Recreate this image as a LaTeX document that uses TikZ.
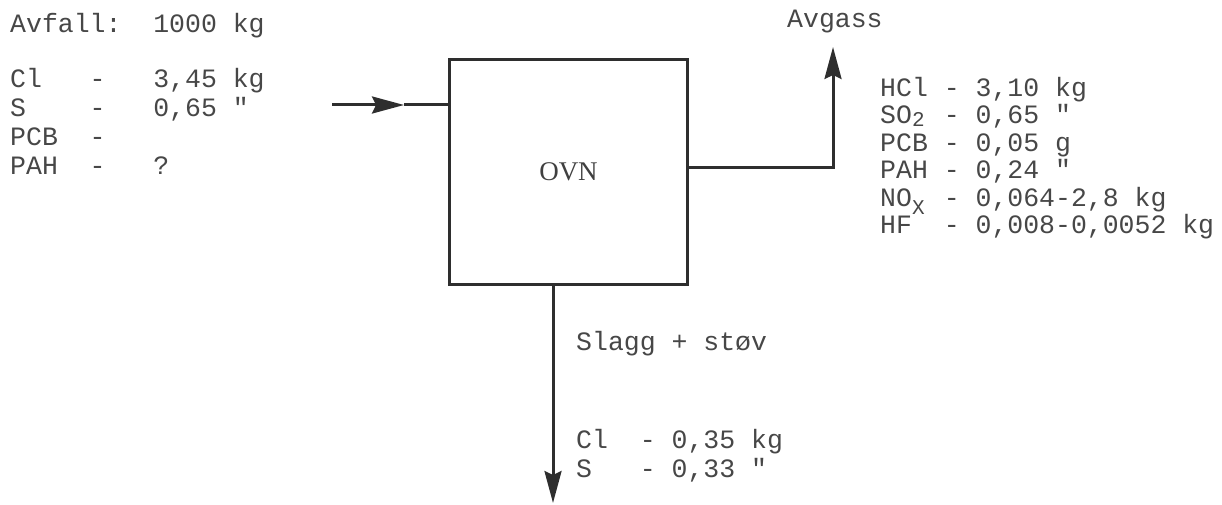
\documentclass[tikz,border=0pt]{standalone}
\usepackage{fontspec}
\setmonofont{Liberation Mono}
\newfontfamily\ovnfont{Liberation Serif}
\usetikzlibrary{arrows.meta}
\newcommand{\dnch}[2]{\makebox[0.6em][l]{\raisebox{#1}{\fontsize{21}{21}\selectfont #2}}}
\tikzset{
  txtL/.style={font=\ttfamily\fontsize{26.5}{29}\selectfont, anchor=base west, align=left, inner sep=0pt, text=black!72},
  txtR/.style={font=\ttfamily\fontsize{26.5}{27.5}\selectfont, anchor=base west, align=left, inner sep=0pt, text=black!72},
  ovnbox/.style={draw=black!82, line width=3pt, minimum width=238pt, minimum height=225pt, anchor=north west, font=\ovnfont\fontsize{27}{27}\selectfont, text=black!75, inner sep=0pt},
  flow/.style={draw=black!82, line width=3pt},
  tipped/.style={-{Stealth[length=32pt,width=17pt,inset=4pt]}}
}
\begin{document}
\begin{tikzpicture}[x=1pt,y=-1pt]
\useasboundingbox (0,0) rectangle (1222,505);
% inputs (anchor 'base' = baseline of the last line)
\node[txtL] (avfall) at (10,33) {Avfall:~~1000 kg};
\node[txtL] (inp) at (10,175) {Cl~~~-~~~3,45 kg\\S~~~~-~~~0,65 "\\PCB~~-\\PAH~~-~~~?};
% furnace
\node[ovnbox] (ovn) at (448,58) {OVN};
% gas
\node[txtR] (avgass) at (787,28) {Avgass};
\node[txtR] (gas) at (880,233.5) {HCl~-~3,10 kg\\SO\dnch{-3pt}{2}~-~0,65 "\\PCB~-~0,05 g\\PAH~-~0,24 "\\NO\dnch{-8pt}{X}~-~0,064-2,8 kg\\HF~~-~0,008-0,0052 kg};
% slag
\node[txtR] (slagg) at (576,350) {Slagg + støv};
\node[txtL] (slag) at (576,477) {Cl~~-~0,35 kg\\S~~~-~0,33 "};
% connectors
\coordinate (instart) at (332,105);
\coordinate (inmid) at (404,105);
\coordinate (gastip) at (833,47);
\coordinate (gasout) at (686,168);
\coordinate (slagtip) at (553,503);
\draw[flow,tipped] (instart) -- (inmid);
\draw[flow] (inmid) -- (inmid -| ovn.west);
\draw[flow,tipped] (gasout -| ovn.east) -| (gastip);
\draw[flow,tipped] (slagtip |- ovn.south) -- (slagtip);
\end{tikzpicture}
\end{document}
